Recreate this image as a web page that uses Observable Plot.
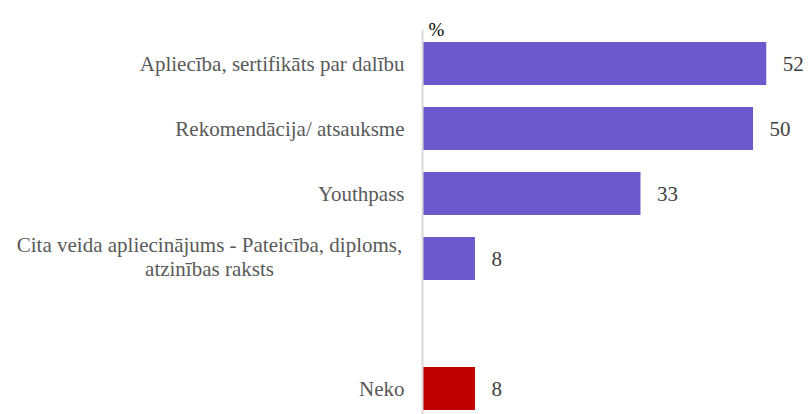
<!DOCTYPE html>
<html>
<head>
<meta charset="utf-8">
<script src="https://cdn.jsdelivr.net/npm/d3@7"></script>
<script src="https://cdn.jsdelivr.net/npm/@observablehq/plot@0.6"></script>
<style>
  html, body { margin: 0; padding: 0; background: #fff; }
  #chart svg { display: block; }
</style>
</head>
<body>
<div id="chart"></div>
<script>
const categories = [
  "Apliecība, sertifikāts par dalību",
  "Rekomendācija/ atsauksme",
  "Youthpass",
  "Cita veida apliecinājums - Pateicība, diploms,\natzinības raksts",
  " ",
  "Neko"
];
const values = [52, 50, 33, 8, null, 8];
const colors = ["#6A5ACD", "#6A5ACD", "#6A5ACD", "#6A5ACD", null, "#C00000"];
const unitLabel = "%";

const data = categories.map((c, i) => ({category: c, value: values[i], color: colors[i]}));
const bars = data.filter(d => d.value != null);
const single = data.filter(d => !d.category.includes("\n") && d.category.trim() !== "");
const multi = data.filter(d => d.category.includes("\n"));

const serif = "Liberation Serif, Times New Roman, DejaVu Serif, serif";

const chart = Plot.plot({
  width: 808,
  height: 414,
  marginLeft: 422,
  marginRight: 2,
  marginTop: 38,
  marginBottom: 0,
  style: {background: "#fff", fontFamily: serif},
  x: {domain: [0, 58], axis: null},
  y: {domain: categories, axis: null, paddingInner: 0.334, paddingOuter: 0.05},
  marks: [
    Plot.barX(bars, {x: "value", y: "category", fill: "color"}),
    Plot.ruleX([0], {stroke: "#d9d9d9", strokeWidth: 2, insetTop: -8}),
    Plot.text(bars, {x: "value", y: "category", text: d => String(d.value), textAnchor: "start", dx: 16, fill: "#404040", fontSize: 21, fontFamily: serif}),
    Plot.text(single, {y: "category", text: "category", frameAnchor: "left", textAnchor: "end", dx: -18, fill: "#595959", fontSize: 21, fontFamily: serif}),
    Plot.text(multi, {y: "category", text: "category", frameAnchor: "left", textAnchor: "middle", dx: -213, dy: -3, fill: "#595959", fontSize: 21, lineHeight: 1.19, fontFamily: serif}),
    Plot.text([unitLabel], {text: d => d, frameAnchor: "top-left", textAnchor: "middle", dx: 14, dy: -16, fill: "#000", fontSize: 19, fontFamily: serif})
  ]
});
document.getElementById("chart").appendChild(chart);
</script>
</body>
</html>
